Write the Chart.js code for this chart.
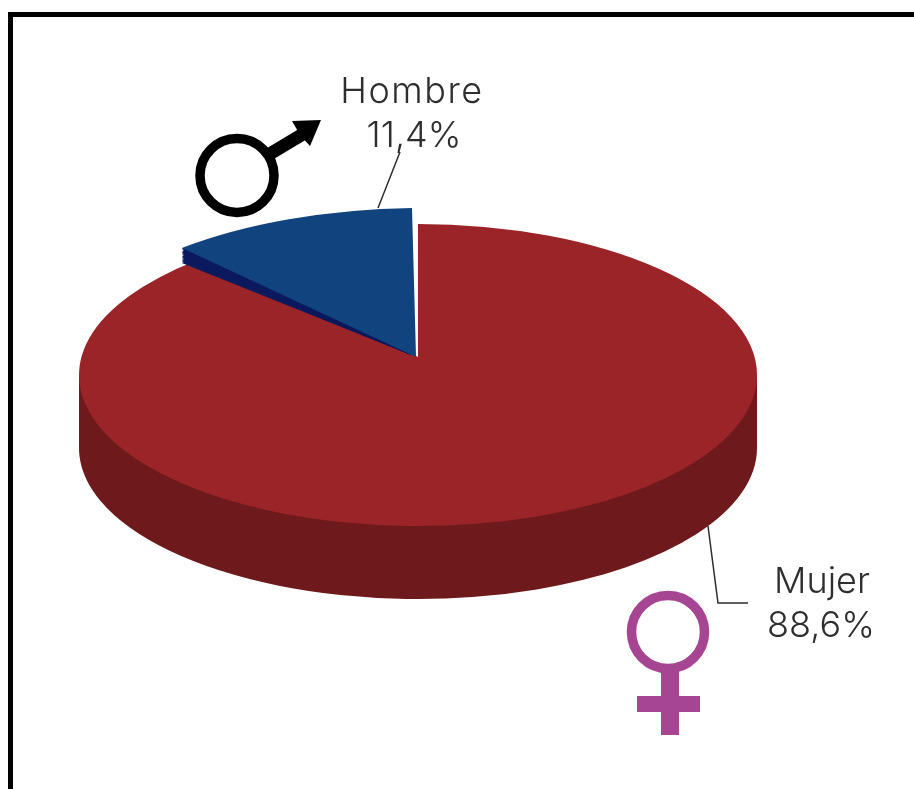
<!DOCTYPE html>
<html>
<head>
<meta charset="utf-8">
<script src="https://cdn.jsdelivr.net/npm/chart.js@4"></script>
<style>
  html, body { margin: 0; padding: 0; width: 914px; height: 789px; overflow: hidden; background: #fff; }
  #frame { position: absolute; left: 8px; top: 12px; width: 906px; height: 777px;
           border-left: 5px solid #000; border-top: 5px solid #000; box-sizing: border-box; }
  canvas { position: absolute; left: 0; top: 0; }
</style>
</head>
<body>
<div id="frame"></div>
<canvas id="pie" width="914" height="789"></canvas>
<script>
const labels = ["Mujer", "Hombre"];
const values = [88.6, 11.4];
const topColors = ["#9a2428", "#11437f"];
const sideColors = ["#6e1a1c", "#0c1a5e"];

const TEXT_COLOR = "#2e2e2e";
const FONT = '300 36px "Inter"';
const DEPTH = 73;
const SQUASH = 151 / 339;

function pct(v) {
  return v.toFixed(1).replace(".", ",") + "%";
}

// draw an arc element with another fill colour
function paint(arc, ctx, color) {
  const base = arc.options;
  arc.options = Object.assign({}, base, { backgroundColor: color });
  arc.draw(ctx);
  arc.options = base;
}

// -------- 3D pie -----------
const pie3d = {
  id: "pie3d",
  beforeDatasetsDraw(chart) {
    const ctx = chart.ctx;
    const [mujer, hombre] = chart.getDatasetMeta(0).data;
    const cx = mujer.x, cy = mujer.y, r = mujer.outerRadius;

    // side wall: bottom ellipse plus the band up to the top face
    ctx.save();
    ctx.translate(cx, cy + DEPTH);
    ctx.scale(1, SQUASH);
    ctx.translate(-cx, -cy);
    paint(mujer, ctx, sideColors[0]);
    ctx.restore();
    ctx.fillStyle = sideColors[0];
    ctx.fillRect(cx - r, cy, 2 * r, DEPTH);

    // top face
    ctx.save();
    ctx.translate(cx, cy);
    ctx.scale(1, SQUASH);
    ctx.translate(-cx, -cy);
    mujer.draw(ctx);
    ctx.restore();

    // the perspective puts the apex above the middle of the ellipse
    ctx.save();
    ctx.translate(cx, 357);
    ctx.scale(280 / r, 131 / r);
    ctx.translate(-cx, -cy);
    mujer.draw(ctx);
    ctx.restore();

    // pulled out slice, thickness first (clipped so it only shows under the lower edge)
    ctx.save();
    ctx.beginPath();
    ctx.rect(0, 246, 410, 200);
    ctx.clip();
    for (let skew = -28; skew < -5; skew += 2) {
      ctx.save();
      ctx.transform(352 / r, skew / r, 4 / r, 149 / r, 416, 357);
      ctx.translate(-cx, -cy);
      paint(hombre, ctx, sideColors[1]);
      ctx.restore();
    }
    ctx.restore();

    ctx.save();
    ctx.transform(352 / r, -5.3 / r, 4 / r, 149 / r, 416, 357);
    ctx.translate(-cx, -cy);
    hombre.draw(ctx);
    ctx.restore();

    return false;
  },
  afterDraw(chart) {
    const ctx = chart.ctx;
    ctx.save();

    // leader lines
    ctx.strokeStyle = TEXT_COLOR;
    ctx.lineWidth = 1.5;
    ctx.beginPath();
    ctx.moveTo(378, 208);
    ctx.lineTo(400, 152);
    ctx.moveTo(708, 526);
    ctx.lineTo(718, 603);
    ctx.lineTo(748, 603);
    ctx.stroke();

    // labels
    ctx.font = FONT;
    ctx.fillStyle = TEXT_COLOR;
    ctx.textAlign = "center";
    ctx.textBaseline = "alphabetic";
    ctx.letterSpacing = "1.5px";
    ctx.fillText(labels[1], 412, 103);
    ctx.letterSpacing = "0px";
    ctx.fillText(pct(values[1]), 414, 147);
    ctx.fillText(labels[0], 822, 593);
    ctx.fillText(pct(values[0]), 821, 637);

    // male symbol
    ctx.strokeStyle = "#000";
    ctx.fillStyle = "#000";
    ctx.lineWidth = 9.5;
    ctx.beginPath();
    ctx.arc(237, 175.5, 37, 0, Math.PI * 2);
    ctx.stroke();
    ctx.lineWidth = 13;
    ctx.beginPath();
    ctx.moveTo(268, 155);
    ctx.lineTo(303, 134);
    ctx.stroke();
    ctx.beginPath();
    ctx.moveTo(321, 120);
    ctx.lineTo(292, 121);
    ctx.lineTo(300, 135);
    ctx.lineTo(310, 146);
    ctx.closePath();
    ctx.fill();

    // female symbol
    ctx.strokeStyle = "#a64592";
    ctx.fillStyle = "#a64592";
    ctx.lineWidth = 9.5;
    ctx.beginPath();
    ctx.arc(668, 632, 36.5, 0, Math.PI * 2);
    ctx.stroke();
    ctx.fillRect(661, 670, 18, 65);
    ctx.fillRect(637, 696, 63, 16);

    ctx.restore();
  },
};

new Chart(document.getElementById("pie"), {
  type: "pie",
  data: {
    labels,
    datasets: [{ data: values, backgroundColor: topColors, borderWidth: 0 }],
  },
  options: {
    responsive: false,
    animation: false,
    layout: { padding: { left: 79, right: 157, top: 36, bottom: 75 } },
    plugins: { legend: { display: false }, tooltip: { enabled: false } },
  },
  plugins: [pie3d],
});
</script>
</body>
</html>
